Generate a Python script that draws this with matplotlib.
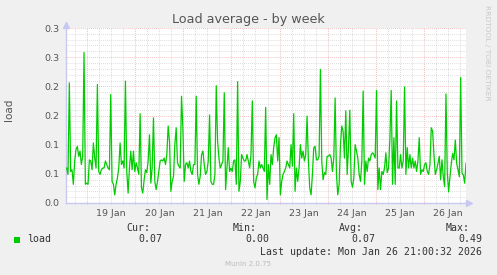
import matplotlib
matplotlib.use("Agg")
import matplotlib.pyplot as plt
import matplotlib.transforms as mtransforms
from matplotlib.patches import Rectangle
from matplotlib.ticker import FixedLocator, MultipleLocator
import pandas as pd

# load average, one sample every 40 minutes
load = [
    0.060, 0.049, 0.206, 0.054, 0.057, 0.032, 0.072, 0.092, 0.097, 0.080,
    0.089, 0.066, 0.080, 0.258, 0.032, 0.034, 0.032, 0.074, 0.072, 0.057,
    0.103, 0.077, 0.060, 0.203, 0.054, 0.049, 0.057, 0.060, 0.060, 0.072,
    0.066, 0.060, 0.057, 0.186, 0.037, 0.032, 0.014, 0.032, 0.043, 0.060,
    0.103, 0.066, 0.072, 0.060, 0.209, 0.054, 0.017, 0.060, 0.089, 0.057,
    0.089, 0.054, 0.069, 0.060, 0.049, 0.153, 0.026, 0.017, 0.040, 0.057,
    0.052, 0.072, 0.117, 0.034, 0.060, 0.146, 0.037, 0.023, 0.037, 0.054,
    0.072, 0.074, 0.072, 0.077, 0.066, 0.083, 0.132, 0.106, 0.020, 0.037,
    0.046, 0.100, 0.129, 0.069, 0.063, 0.060, 0.183, 0.129, 0.037, 0.066,
    0.069, 0.060,
    0.072, 0.054, 0.049, 0.066, 0.066, 0.183, 0.049, 0.032, 0.046, 0.083,
    0.089, 0.066, 0.049, 0.054, 0.072, 0.151, 0.037, 0.032, 0.032, 0.049,
    0.201, 0.106, 0.077, 0.060, 0.066, 0.072, 0.189, 0.023, 0.060, 0.095,
    0.054, 0.060, 0.054, 0.072, 0.074, 0.032, 0.208, 0.020, 0.037, 0.083,
    0.077, 0.072, 0.072, 0.083, 0.072, 0.060, 0.083, 0.175, 0.037, 0.026,
    0.043, 0.049, 0.072, 0.060, 0.066, 0.060, 0.054, 0.164, 0.006, 0.066,
    0.032, 0.083, 0.066, 0.095, 0.112, 0.117, 0.072, 0.112, 0.014, 0.037,
    0.049, 0.054, 0.060, 0.072, 0.066, 0.060, 0.100, 0.063, 0.153, 0.020,
    0.060, 0.037, 0.060, 0.100, 0.077, 0.089, 0.072, 0.083, 0.149, 0.072,
    0.026, 0.014,
    0.049, 0.095, 0.097, 0.074, 0.074, 0.080, 0.229, 0.072, 0.040, 0.052,
    0.049, 0.080, 0.080, 0.083, 0.077, 0.054, 0.077, 0.180, 0.049, 0.014,
    0.032, 0.100, 0.132, 0.123, 0.077, 0.158, 0.049, 0.095, 0.159, 0.037,
    0.027, 0.043, 0.100, 0.089, 0.077, 0.049, 0.037, 0.072, 0.192, 0.032,
    0.072, 0.054, 0.077, 0.072, 0.083, 0.086, 0.083, 0.077, 0.193, 0.023,
    0.060, 0.023, 0.054, 0.049, 0.060, 0.086, 0.052, 0.060, 0.109, 0.193,
    0.032, 0.112, 0.032, 0.175, 0.060, 0.060, 0.083, 0.060, 0.072, 0.199,
    0.049, 0.095, 0.060, 0.083, 0.060, 0.077, 0.060, 0.072, 0.054, 0.072,
    0.112, 0.049, 0.057, 0.054, 0.066, 0.069, 0.054, 0.049, 0.066, 0.129,
    0.123, 0.083, 0.049,
    0.057, 0.068, 0.080, 0.040, 0.074, 0.045, 0.028, 0.187, 0.051, 0.019,
    0.045, 0.068, 0.085, 0.074, 0.108, 0.068, 0.057, 0.045, 0.215, 0.051,
    0.048, 0.034, 0.068,
]
times = pd.date_range("2026-01-18 13:45", periods=len(load), freq="40min")

y_ticks = [0.0, 0.05, 0.10, 0.15, 0.20, 0.25, 0.30]
y_tick_labels = ["0.0", "0.1", "0.1", "0.2", "0.2", "0.3", "0.3"]
day_labels = ["19 Jan", "20 Jan", "21 Jan", "22 Jan", "23 Jan", "24 Jan", "25 Jan", "26 Jan"]
stat_names = ["Cur:", "Min:", "Avg:", "Max:"]
stat_values = ["0.07", "0.00", "0.07", "0.49"]
last_update = "Last update: Mon Jan 26 21:00:32 2026"

W, H = 497, 275
fig = plt.figure(figsize=(W / 100, H / 100), dpi=100, facecolor="#F0F0F0")
ax = fig.add_axes([66 / W, 1 - 203 / H, 400 / W, 175 / H])
ax.set_facecolor("white")

ax.plot(times, load, color="#00CC00", lw=0.9, zorder=3)

ax.set_xlim(pd.Timestamp("2026-01-18 13:25"), pd.Timestamp("2026-01-26 21:05"))
ax.set_ylim(0, 0.3)

# day lines at midnight (red), 6h lines (grey), labels at noon
midnights = pd.date_range("2026-01-19", periods=8, freq="D")
six_hours = [t for t in pd.date_range("2026-01-18 18:00", "2026-01-26 18:00", freq="6h") if t.hour != 0]
ax.set_xticks(midnights, labels=[""] * len(midnights))
ax.set_xticks(six_hours, minor=True)
noon_labels = []
for t in six_hours:
    if t.hour == 12:
        noon_labels.append(day_labels[(t.normalize() - midnights[0]).days])
    else:
        noon_labels.append("")
ax.set_xticklabels(noon_labels, minor=True)

ax.yaxis.set_major_locator(FixedLocator(y_ticks))
ax.set_yticklabels(y_tick_labels)
ax.yaxis.set_minor_locator(MultipleLocator(0.01))

dots = (0, (0.7, 1.4))
ax.grid(which="major", color="#F0A8A8", lw=0.7, ls=dots)
ax.grid(which="minor", color="#D0D0D0", lw=0.7, ls=dots)
ax.set_axisbelow(True)

for s in ["top", "right"]:
    ax.spines[s].set_visible(False)
for s in ["left", "bottom"]:
    ax.spines[s].set_color("#C8C8F0")
    ax.spines[s].set_linewidth(1.0)

ax.tick_params(which="major", axis="x", length=2, color="#F0A8A8", direction="inout")
ax.tick_params(which="minor", axis="x", length=2, color="#D0D0D0", direction="inout",
               labelsize=6.8, labelcolor="#555555", pad=3)
ax.tick_params(which="major", axis="y", length=2, color="#D0D0D0", direction="inout",
               labelsize=6.8, labelcolor="#555555", pad=4)
ax.tick_params(which="minor", axis="y", length=0)

# arrow heads at the ends of the axes
up = mtransforms.offset_copy(ax.transAxes, fig=fig, x=0, y=3, units="dots")
right = mtransforms.offset_copy(ax.transAxes, fig=fig, x=3, y=0, units="dots")
ax.plot([0], [1], marker="^", ms=4.5, color="#C8C8F0", transform=up, clip_on=False)
ax.plot([1], [0], marker=">", ms=4.5, color="#C8C8F0", transform=right, clip_on=False)

fig.text(0.5, 1 - 19 / H, "Load average - by week", ha="center", va="center",
         fontsize=9.2, color="#555555")
fig.text(9 / W, 1 - 110 / H, "load", rotation=90, ha="center", va="center",
         fontsize=7.5, color="#555555")
fig.text(487 / W, 1 - 53 / H, "RRDTOOL / TOBI OETIKER", rotation=270, ha="center",
         va="center", fontsize=5.4, color="#C8C8C8")

mono = "DejaVu Sans Mono"
name_right = [150, 256.7, 363.3, 470]
value_right = [162.3, 269, 375.7, 482.3]
for name, value, xn, xv in zip(stat_names, stat_values, name_right, value_right):
    fig.text(xn / W, 1 - 228 / H, name, ha="right", va="center", family=mono,
             fontsize=7.1, color="#333333")
    fig.text(xv / W, 1 - 239.5 / H, value, ha="right", va="center", family=mono,
             fontsize=7.1, color="#333333")
fig.patches.append(Rectangle((14 / W, 1 - 243 / H), 6 / W, 6 / H, transform=fig.transFigure,
                             facecolor="#00CC00", edgecolor="none"))
fig.text(26.7 / W, 1 - 239.5 / H, "load", ha="left", va="center", family=mono,
         fontsize=7.1, color="#333333")
fig.text(482.3 / W, 1 - 251.7 / H, last_update, ha="right", va="center", family=mono,
         fontsize=7.1, color="#333333")
fig.text(248 / W, 1 - 264 / H, "Munin 2.0.75", ha="center", va="center",
         fontsize=5, color="#BBBBBB")

fig.savefig("out.png", dpi=100, facecolor=fig.get_facecolor())
